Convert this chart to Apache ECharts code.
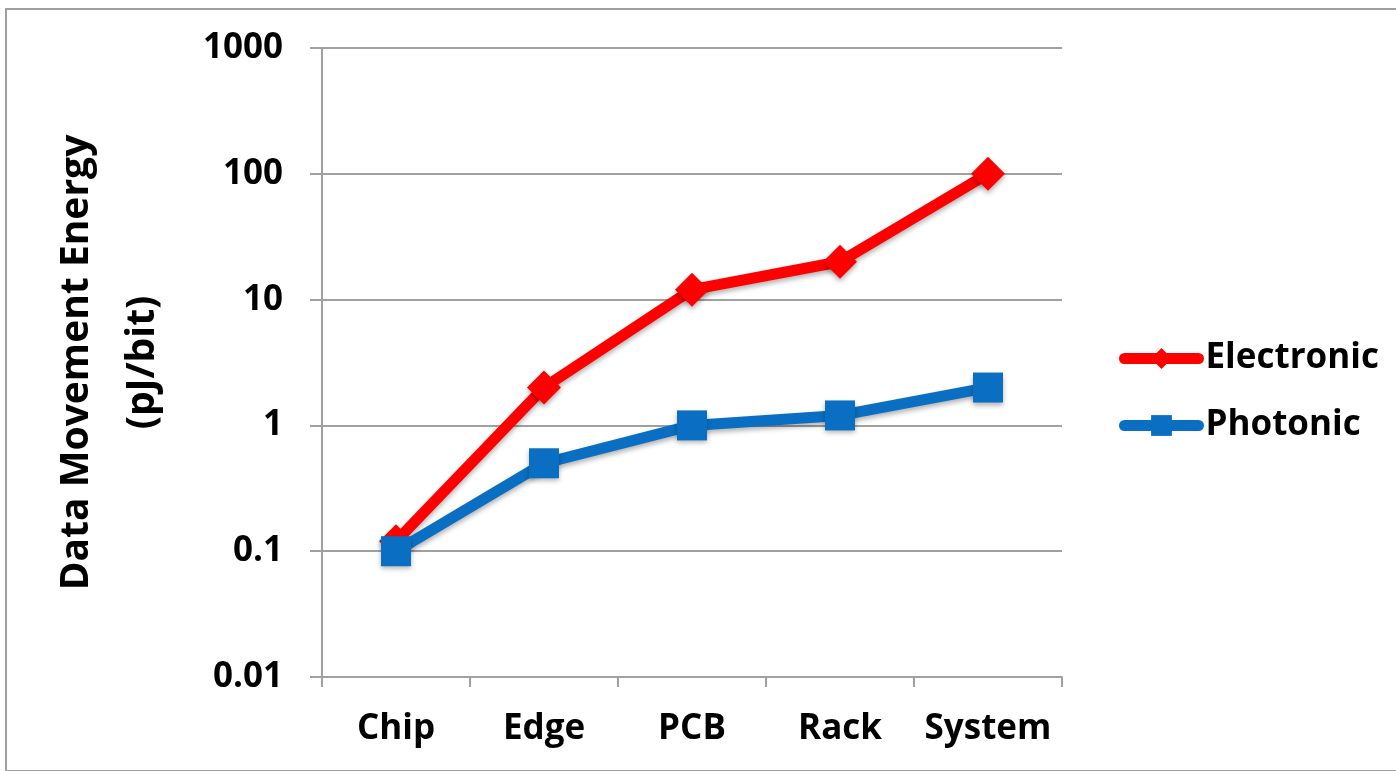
<!DOCTYPE html>
<html>
<head>
<meta charset="utf-8">
<script src="https://cdn.jsdelivr.net/npm/echarts@6/dist/echarts.min.js"></script>
<style>
  html, body { margin: 0; padding: 0; background: #fff; }
  #chart { width: 1396px; height: 771px; }
</style>
</head>
<body>
<div id="chart"></div>
<script>
// Interconnect levels along the x axis
const levels = ['Chip', 'Edge', 'PCB', 'Rack', 'System'];
// Energy per bit (pJ/bit) at each level
const electronic = [0.12, 2, 12, 20, 100];
const photonic = [0.1, 0.5, 1, 1.2, 2];
// Log-scale tick labels
const yTickLabels = ['0.01', '0.1', '1', '10', '100', '1000'];

const FONT = '"Open Sans"';
const gridColor = '#a0a0a0';
const red = '#ff0000';
const blue = '#0a6fc2';
const markShadow = { shadowColor: 'rgba(0,0,0,0.3)', shadowBlur: 5, shadowOffsetY: 3 };

const chart = echarts.init(document.getElementById('chart'), null, { renderer: 'canvas' });

chart.setOption({
  animation: false,
  backgroundColor: '#ffffff',
  textStyle: { fontFamily: FONT, fontWeight: 'bold', color: '#000' },
  graphic: [{
    type: 'rect',
    shape: { x: 6, y: 9, width: 1400, height: 762 },
    style: { fill: 'none', stroke: '#a0a0a0', lineWidth: 2 },
    silent: true
  }],
  grid: { left: 322, right: 334, top: 48, bottom: 94 },
  legend: {
    orient: 'vertical',
    left: 1114,
    top: 336,
    itemWidth: 74,
    itemHeight: 26,
    itemGap: 32,
    textStyle: { fontFamily: FONT, fontWeight: 'bold', fontSize: 35, color: '#000', padding: [0, 0, 0, 2] },
    data: [
      { name: 'Electronic', lineStyle: { width: 11, color: red, cap: 'round' } },
      { name: 'Photonic', lineStyle: { width: 11, color: blue, cap: 'round' } }
    ]
  },
  xAxis: {
    type: 'category',
    data: levels,
    boundaryGap: true,
    axisLine: { lineStyle: { color: gridColor, width: 2 } },
    axisTick: { show: true, interval: 0, length: 10, lineStyle: { color: gridColor, width: 2 } },
    axisLabel: { interval: 0, fontFamily: FONT, fontWeight: 'bold', fontSize: 35, color: '#000', margin: 35 }
  },
  yAxis: {
    type: 'log',
    logBase: 10,
    min: 0.01,
    max: 1000,
    name: 'Data Movement Energy\n(pJ/bit)',
    nameLocation: 'middle',
    nameRotate: 90,
    nameGap: 146,
    nameTextStyle: { fontFamily: FONT, fontWeight: 'bold', fontSize: 39, color: '#000', lineHeight: 66 },
    axisLine: { show: true, lineStyle: { color: gridColor, width: 2 } },
    axisTick: { show: true, length: 12, lineStyle: { color: gridColor, width: 2 } },
    splitLine: { show: true, lineStyle: { color: gridColor, width: 2 } },
    axisLabel: {
      fontFamily: FONT, fontWeight: 'bold', fontSize: 35, color: '#000', margin: 39,
      formatter: function (v) {
        const i = Math.round(Math.log10(v)) + 2;
        return yTickLabels[i] !== undefined ? yTickLabels[i] : '';
      }
    }
  },
  series: [
    {
      name: 'Electronic',
      type: 'line',
      data: electronic,
      symbol: 'diamond',
      symbolSize: 34,
      color: red,
      lineStyle: Object.assign({ width: 11, color: red, cap: 'round', join: 'round' }, markShadow),
      itemStyle: Object.assign({ color: red }, markShadow),
      z: 2
    },
    {
      name: 'Photonic',
      type: 'line',
      data: photonic,
      symbol: 'rect',
      symbolSize: 30,
      color: blue,
      lineStyle: Object.assign({ width: 11, color: blue, cap: 'round', join: 'round' }, markShadow),
      itemStyle: Object.assign({ color: blue }, markShadow),
      z: 3
    }
  ]
});
</script>
</body>
</html>
